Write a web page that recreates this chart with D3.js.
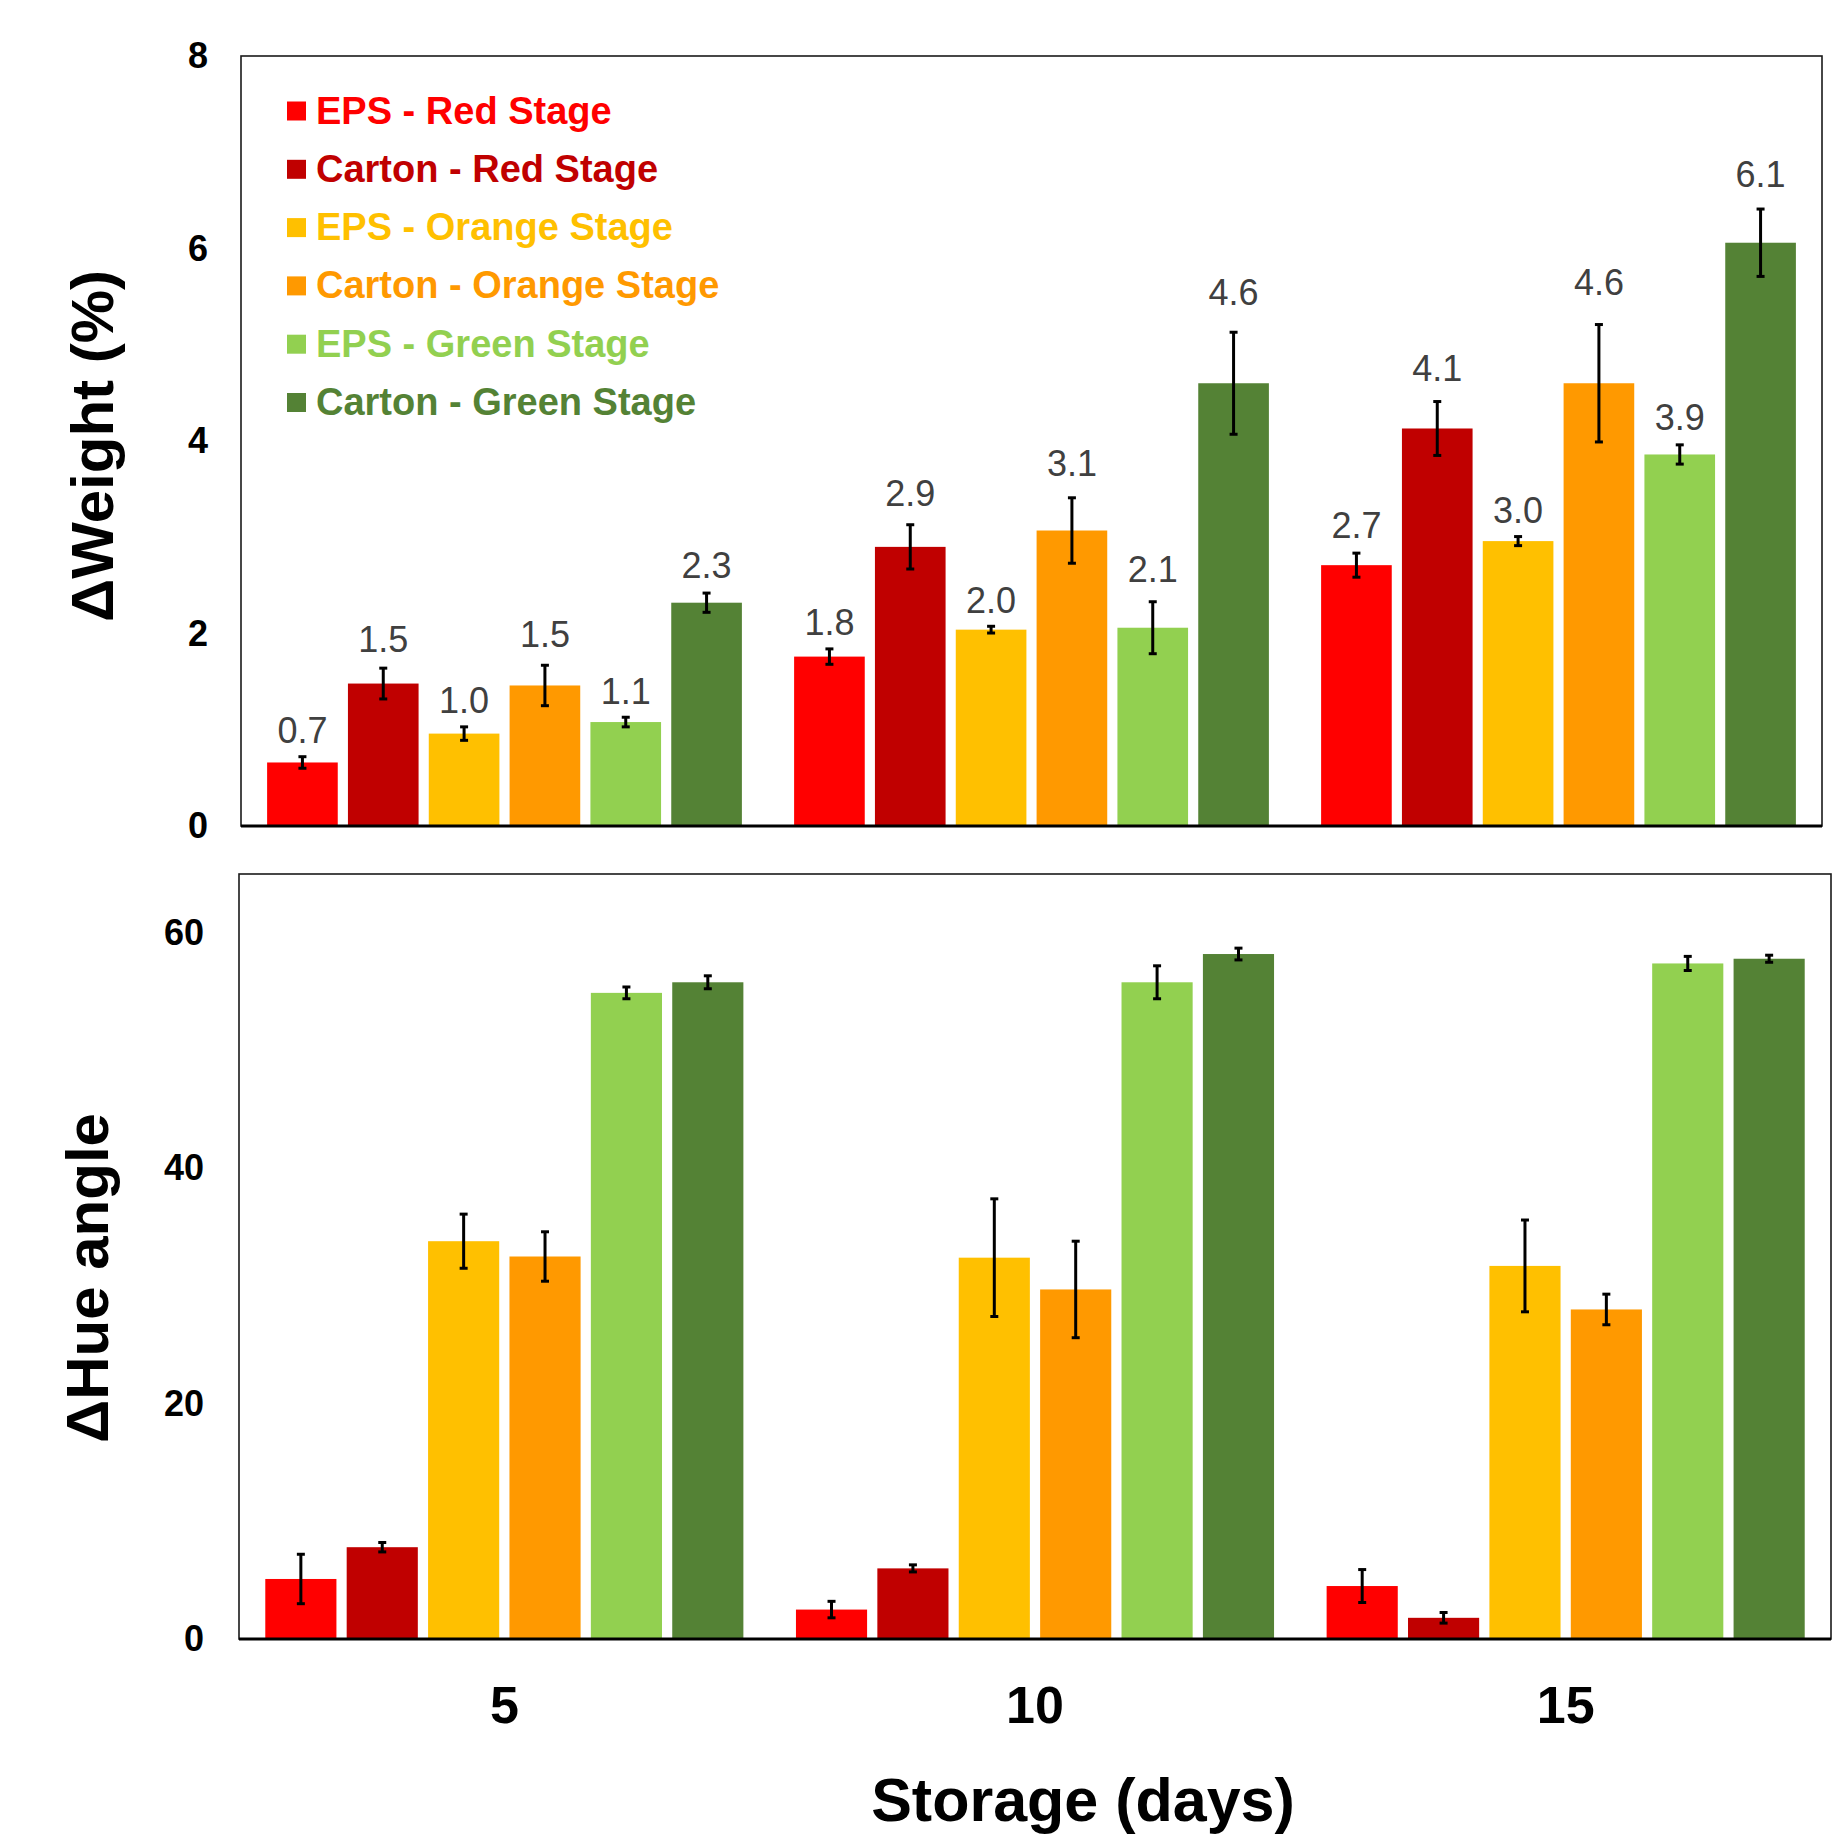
<!DOCTYPE html>
<meta charset="utf-8">
<script src="https://d3js.org/d3.v7.min.js"></script>
<style>
  body { margin: 0; background: #fff; }
  text { font-family: "Liberation Sans", Arial, sans-serif; }
</style>
<div id="chart"></div>
<script>

// categories (storage days) and series
const days = ["5", "10", "15"]
const series = ["EPS - Red Stage", "Carton - Red Stage", "EPS - Orange Stage",
                "Carton - Orange Stage", "EPS - Green Stage", "Carton - Green Stage"]
const seriesColors = ["#ff0000", "#c00000", "#ffc000", "#ff9900", "#92d050", "#548235"]

// ΔWeight (%) per series, one value per day
const weightValues = [
  [0.66, 1.76, 2.71],
  [1.48, 2.90, 4.13],
  [0.96, 2.04, 2.96],
  [1.46, 3.07, 4.60],
  [1.08, 2.06, 3.86],
  [2.32, 4.60, 6.06]
]
const weightErrors = [
  [0.06, 0.08, 0.125],
  [0.16, 0.23, 0.28],
  [0.07, 0.035, 0.047],
  [0.21, 0.34, 0.61],
  [0.05, 0.27, 0.10],
  [0.10, 0.53, 0.35]
]
const weightTicks = [0, 2, 4, 6, 8]

// ΔHue angle per series
const hueValues = [
  [5.1, 2.5, 4.5],
  [7.8, 6.0, 1.8],
  [33.8, 32.4, 31.7],
  [32.5, 29.7, 28.0],
  [54.9, 55.8, 57.4],
  [55.8, 58.2, 57.8]
]
const hueErrors = [
  [2.1, 0.7, 1.4],
  [0.4, 0.3, 0.45],
  [2.3, 5.0, 3.9],
  [2.1, 4.1, 1.3],
  [0.5, 1.4, 0.6],
  [0.55, 0.5, 0.3]
]
const hueTicks = [0, 20, 40, 60]

const W = 1845, H = 1837

const svg = d3.select("#chart").append("svg")
    .attr("width", W)
    .attr("height", H)

const color = d3.scaleOrdinal().domain(series).range(seriesColors)

function drawPanel(p) {
  const x = d3.scaleBand().domain(days).range([p.left, p.right])
  const xs = d3.scaleBand().domain(series).range([0, x.bandwidth()])
      .paddingInner(0.126).paddingOuter(0.323)
  const y = d3.scaleLinear().domain([0, p.max]).range([p.bottom, p.top])
  const cx = d => x(d.day) + xs(d.series) + xs.bandwidth() / 2

  const rows = []
  series.forEach((s, i) => days.forEach((d, j) => {
    rows.push({series: s, day: d, value: p.values[i][j], err: p.errors[i][j]})
  }))

  const g = svg.append("g")

  // frame
  g.append("rect")
      .attr("x", p.left).attr("y", p.top)
      .attr("width", p.right - p.left).attr("height", p.bottom - p.top)
      .attr("fill", "none").attr("stroke", "#1a1a1a").attr("stroke-width", 1.6)

  // bars
  g.selectAll(".bar").data(rows).join("rect")
      .attr("class", "bar")
      .attr("x", d => x(d.day) + xs(d.series))
      .attr("width", xs.bandwidth())
      .attr("y", d => y(d.value))
      .attr("height", d => y(0) - y(d.value))
      .attr("fill", d => color(d.series))

  // error bars
  const cap = 4
  const eb = g.selectAll(".err").data(rows).join("g").attr("class", "err")
      .attr("stroke", "#000").attr("stroke-width", 3)
  eb.append("line")
      .attr("x1", cx).attr("x2", cx)
      .attr("y1", d => y(d.value + d.err))
      .attr("y2", d => y(d.value - d.err))
  eb.append("line")
      .attr("x1", d => cx(d) - cap).attr("x2", d => cx(d) + cap)
      .attr("y1", d => y(d.value + d.err))
      .attr("y2", d => y(d.value + d.err))
  eb.append("line")
      .attr("x1", d => cx(d) - cap).attr("x2", d => cx(d) + cap)
      .attr("y1", d => y(d.value - d.err))
      .attr("y2", d => y(d.value - d.err))

  // data labels, set above the error bar
  if (p.labels) {
    g.selectAll(".lbl").data(rows).join("text")
        .attr("class", "lbl")
        .attr("x", cx)
        .attr("y", d => {
          const top = y(d.value + d.err)
          return top - 12 - 0.3 * (y(d.value) - top)
        })
        .attr("text-anchor", "middle")
        .attr("font-size", 36)
        .attr("fill", "#404040")
        .text(d => d.value.toFixed(1))
  }

  // x axis line
  g.append("line")
      .attr("x1", p.left).attr("x2", p.right)
      .attr("y1", p.bottom).attr("y2", p.bottom)
      .attr("stroke", "#000").attr("stroke-width", 3)

  // y axis
  const ya = g.append("g")
      .attr("transform", `translate(${p.left},0)`)
      .call(d3.axisLeft(y).tickValues(p.ticks).tickSize(0).tickPadding(p.tickPad))
  ya.select(".domain").remove()
  ya.selectAll("text")
      .attr("font-size", 36).attr("font-weight", "bold").attr("fill", "#000")
      .attr("font-family", "Liberation Sans, Arial, sans-serif")

  // y title
  g.append("text")
      .attr("transform", `translate(${p.titleX},${p.titleY}) rotate(-90)`)
      .attr("text-anchor", "middle")
      .attr("font-size", 60).attr("font-weight", "bold")
      .text(p.title)

  if (p.xAxis) {
    const xa = g.append("g")
        .attr("transform", `translate(0,${p.bottom})`)
        .call(d3.axisBottom(x).tickSize(0))
    xa.select(".domain").remove()
    xa.selectAll("text")
        .attr("y", 84).attr("dy", 0)
        .attr("font-size", 52).attr("font-weight", "bold").attr("fill", "#000")
        .attr("font-family", "Liberation Sans, Arial, sans-serif")
  }
}

drawPanel({
  left: 241, right: 1822, top: 56, bottom: 826, max: 8,
  ticks: weightTicks, tickPad: 33,
  values: weightValues, errors: weightErrors, labels: true,
  title: "ΔWeight (%)", titleX: 113, titleY: 446
})

drawPanel({
  left: 239, right: 1831, top: 874, bottom: 1639, max: 65,
  ticks: hueTicks, tickPad: 35,
  values: hueValues, errors: hueErrors, labels: false,
  title: "ΔHue angle", titleX: 108, titleY: 1278, xAxis: true
})

// legend
const legend = svg.append("g").attr("transform", "translate(287,111)")
const item = legend.selectAll("g").data(series).join("g")
    .attr("transform", (d, i) => `translate(0,${i * 58.3})`)
item.append("rect")
    .attr("x", 0).attr("y", -9.5).attr("width", 19).attr("height", 19)
    .attr("fill", d => color(d))
item.append("text")
    .attr("x", 29).attr("y", 12.5)
    .attr("font-size", 38).attr("font-weight", "bold")
    .attr("fill", d => color(d))
    .text(d => d)

// x title
svg.append("text")
    .attr("x", 1083).attr("y", 1821)
    .attr("text-anchor", "middle")
    .attr("font-size", 61).attr("font-weight", "bold")
    .text("Storage (days)")

</script>
